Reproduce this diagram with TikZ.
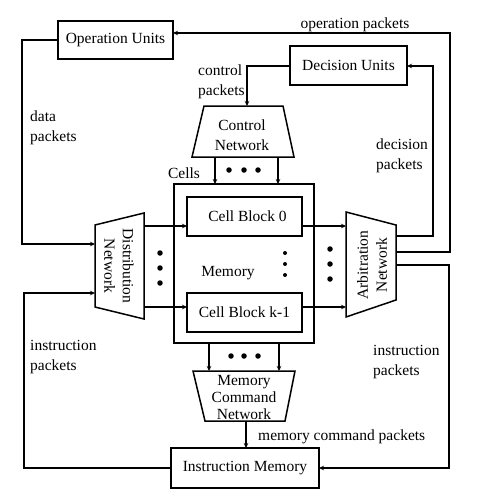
\documentclass[tikz,border=0pt]{standalone}
\usepackage{fontspec}
\setmainfont{Liberation Serif}
\usetikzlibrary{arrows.meta}
\begin{document}
\begin{tikzpicture}[x=1pt,y=-1pt,
  every node/.style={font=\fontsize{15.5}{19.5}\selectfont, inner sep=0pt},
  blk/.style={draw, line width=1.5pt, minimum width=#1},
  net/.style={draw, line width=1.5pt, line join=miter},
  conn/.style={line width=1.2pt, -{Stealth[length=5pt,width=4.5pt]}},
  plain/.style={line width=1.2pt},
  lbl/.style={align=left, anchor=west},
  bigdot/.style={fill, circle, minimum size=5.5pt},
  smalldot/.style={fill, circle, minimum size=4pt}]
\useasboundingbox (0,0) rectangle (478,501);

% boxes
\node[blk=115pt, minimum height=38pt] (ou) at (115.5,40) {Operation Units};
\node[blk=117pt, minimum height=39pt] (du) at (348.5,65.5) {Decision Units};
\node[draw, line width=1.5pt, minimum width=140pt, minimum height=159pt] (cells) at (244,263.5) {};
\node[blk=115pt, minimum height=39pt] (cb0) at (244.5,216.5) {\hspace{6pt}Cell Block 0};
\node[blk=115pt, minimum height=39pt] (cbk) at (244.5,312.5) {Cell Block k-1};
\node[blk=148pt, minimum height=40pt] (im) at (245,468) {Instruction Memory};

% control network
\coordinate (cnA) at (204,106); \coordinate (cnB) at (283,106);
\coordinate (cnC) at (294,157); \coordinate (cnD) at (192,157);
\draw[net] (cnA) -- (cnB) -- (cnC) -- (cnD) -- cycle;
\node[align=center, font=\fontsize{15.5}{20}\selectfont] (cn) at (242,135) {Control\\Network};

% memory command network
\coordinate (mA) at (193,371); \coordinate (mB) at (295,371);
\coordinate (mC) at (285,421); \coordinate (mD) at (205,421);
\draw[net] (mA) -- (mB) -- (mC) -- (mD) -- cycle;
\node[align=center, font=\fontsize{15.5}{17}\selectfont] (mcn) at (244,397) {Memory\\Command\\Network};

% distribution network
\coordinate (dA) at (95,225); \coordinate (dB) at (144,213);
\coordinate (dC) at (144,319); \coordinate (dD) at (95,307);
\draw[net] (dA) -- (dB) -- (dC) -- (dD) -- cycle;
\node[align=center, rotate=-90, font=\fontsize{15.5}{18.5}\selectfont] (dn) at (119,266) {Distribution\\Network};

% arbitration network
\coordinate (aA) at (346,212); \coordinate (aB) at (396,225);
\coordinate (aC) at (396,300); \coordinate (aD) at (346,317);
\draw[net] (aA) -- (aB) -- (aC) -- (aD) -- cycle;
\node[align=center, rotate=90, font=\fontsize{15.5}{19}\selectfont] (an) at (372,265) {Arbitration\\Network};

% connector points
\coordinate (dIn1) at (95,244);
\coordinate (dIn2) at (95,293);
\coordinate (cnTop) at (247,106);
\coordinate (duE) at (407,66);
\coordinate (ouE) at (173,33);
\coordinate (imE) at (319,468);
\coordinate (imW) at (171,468);
\coordinate (ouW) at (58,40);
\coordinate (duW) at (290,66);
\coordinate (aO1) at (396,236);
\coordinate (aO2) at (396,252);
\coordinate (aO3) at (396,265);

\draw[conn] (ouW) -- (22,40) -- (22,244) -- (dIn1);
\draw[conn] (imW) -- (24,468) -- (24,293) -- (dIn2);
\draw[conn] (duW) -- (247,66) -- (cnTop);
\draw[conn] (aO1) -- (433,236) -- (433,66) -- (duE);
\draw[conn] (aO2) -- (450,252) -- (450,33) -- (ouE);
\draw[conn] (aO3) -- (449,265) -- (449,468) -- (imE);

\draw[conn] (215,157) -- (215,184);
\draw[conn] (278,157) -- (278,184);
\draw[conn] (144,226) -- (187,226);
\draw[conn] (144,307) -- (187,307);
\draw[conn] (302,226) -- (346,226);
\draw[conn] (302,307) -- (346,307);
\draw[conn] (209,343) -- (209,371);
\draw[conn] (279,343) -- (279,371);
\draw[conn] (246,421) -- (246,448);

% dots
\foreach \i/\x in {1/229,2/244,3/258} \node[bigdot] (dt\i) at (\x,170) {};
\foreach \i/\x in {1/231,2/244,3/258} \node[bigdot] (db\i) at (\x,356) {};
\foreach \i/\y in {1/253,2/268,3/283} \node[bigdot] (dl\i) at (160,\y) {};
\foreach \i/\y in {1/249,2/264,3/279} \node[bigdot] (dr\i) at (330,\y) {};
\foreach \i/\y in {1/253,2/264,3/275} \node[smalldot] (dm\i) at (285,\y) {};

% labels
\node (lop) at (355,25) {operation packets};
\node[lbl] (lcp) at (198,82) {control\\packets};
\node[lbl] (ldp) at (30,128) {data\\packets};
\node[lbl] (ldec) at (376,156) {decision\\packets};
\node (lcells) at (184,173) {Cells};
\node (lmem) at (228,273) {Memory};
\node[lbl] (lip1) at (30,357) {instruction\\packets};
\node[lbl] (lip2) at (373,362) {instruction\\packets};
\node[lbl] (lmcp) at (258,437) {memory command packets};
\end{tikzpicture}
\end{document}
